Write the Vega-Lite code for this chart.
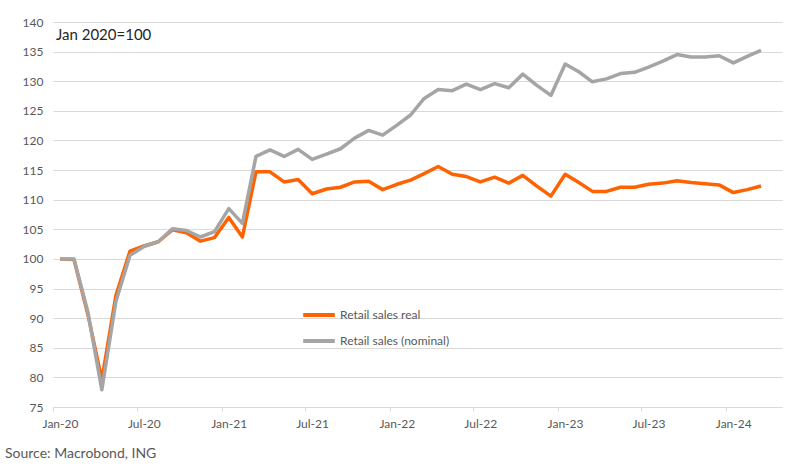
{
  "$schema": "https://vega.github.io/schema/vega-lite/v6.json",
  "width": 729,
  "height": 385,
  "autosize": {"type": "none"},
  "padding": {"left": 53, "top": 22, "right": 5, "bottom": 68},
  "background": "white",
  "config": {"view": {"stroke": null}, "font": "Lato"},
  "title": {"text": "Source: Macrobond, ING", "orient": "bottom", "anchor": "start", "frame": "group", "dx": -48, "offset": 18, "fontSize": 14, "fontWeight": "normal", "color": "#595959", "font": "Lato"},
  "layer": [
    {
      "data": {"values": [
        {"month": "2020-01-01", "series": "Retail sales real", "index": 100.0},
        {"month": "2020-02-01", "series": "Retail sales real", "index": 99.9},
        {"month": "2020-03-01", "series": "Retail sales real", "index": 90.7},
        {"month": "2020-04-01", "series": "Retail sales real", "index": 79.6},
        {"month": "2020-05-01", "series": "Retail sales real", "index": 93.8},
        {"month": "2020-06-01", "series": "Retail sales real", "index": 101.3},
        {"month": "2020-07-01", "series": "Retail sales real", "index": 102.2},
        {"month": "2020-08-01", "series": "Retail sales real", "index": 102.9},
        {"month": "2020-09-01", "series": "Retail sales real", "index": 104.9},
        {"month": "2020-10-01", "series": "Retail sales real", "index": 104.4},
        {"month": "2020-11-01", "series": "Retail sales real", "index": 103.0},
        {"month": "2020-12-01", "series": "Retail sales real", "index": 103.6},
        {"month": "2021-01-01", "series": "Retail sales real", "index": 107.0},
        {"month": "2021-02-01", "series": "Retail sales real", "index": 103.7},
        {"month": "2021-03-01", "series": "Retail sales real", "index": 114.7},
        {"month": "2021-04-01", "series": "Retail sales real", "index": 114.7},
        {"month": "2021-05-01", "series": "Retail sales real", "index": 113.0},
        {"month": "2021-06-01", "series": "Retail sales real", "index": 113.4},
        {"month": "2021-07-01", "series": "Retail sales real", "index": 111.0},
        {"month": "2021-08-01", "series": "Retail sales real", "index": 111.8},
        {"month": "2021-09-01", "series": "Retail sales real", "index": 112.1},
        {"month": "2021-10-01", "series": "Retail sales real", "index": 113.0},
        {"month": "2021-11-01", "series": "Retail sales real", "index": 113.1},
        {"month": "2021-12-01", "series": "Retail sales real", "index": 111.7},
        {"month": "2022-01-01", "series": "Retail sales real", "index": 112.6},
        {"month": "2022-02-01", "series": "Retail sales real", "index": 113.3},
        {"month": "2022-03-01", "series": "Retail sales real", "index": 114.4},
        {"month": "2022-04-01", "series": "Retail sales real", "index": 115.6},
        {"month": "2022-05-01", "series": "Retail sales real", "index": 114.3},
        {"month": "2022-06-01", "series": "Retail sales real", "index": 113.9},
        {"month": "2022-07-01", "series": "Retail sales real", "index": 113.0},
        {"month": "2022-08-01", "series": "Retail sales real", "index": 113.8},
        {"month": "2022-09-01", "series": "Retail sales real", "index": 112.8},
        {"month": "2022-10-01", "series": "Retail sales real", "index": 114.1},
        {"month": "2022-11-01", "series": "Retail sales real", "index": 112.3},
        {"month": "2022-12-01", "series": "Retail sales real", "index": 110.6},
        {"month": "2023-01-01", "series": "Retail sales real", "index": 114.3},
        {"month": "2023-02-01", "series": "Retail sales real", "index": 112.9},
        {"month": "2023-03-01", "series": "Retail sales real", "index": 111.4},
        {"month": "2023-04-01", "series": "Retail sales real", "index": 111.4},
        {"month": "2023-05-01", "series": "Retail sales real", "index": 112.1},
        {"month": "2023-06-01", "series": "Retail sales real", "index": 112.1},
        {"month": "2023-07-01", "series": "Retail sales real", "index": 112.6},
        {"month": "2023-08-01", "series": "Retail sales real", "index": 112.8},
        {"month": "2023-09-01", "series": "Retail sales real", "index": 113.2},
        {"month": "2023-10-01", "series": "Retail sales real", "index": 112.9},
        {"month": "2023-11-01", "series": "Retail sales real", "index": 112.7},
        {"month": "2023-12-01", "series": "Retail sales real", "index": 112.5},
        {"month": "2024-01-01", "series": "Retail sales real", "index": 111.2},
        {"month": "2024-02-01", "series": "Retail sales real", "index": 111.7},
        {"month": "2024-03-01", "series": "Retail sales real", "index": 112.3},
        {"month": "2020-01-01", "series": "Retail sales (nominal)", "index": 100.0},
        {"month": "2020-02-01", "series": "Retail sales (nominal)", "index": 100.0},
        {"month": "2020-03-01", "series": "Retail sales (nominal)", "index": 91.1},
        {"month": "2020-04-01", "series": "Retail sales (nominal)", "index": 77.9},
        {"month": "2020-05-01", "series": "Retail sales (nominal)", "index": 92.8},
        {"month": "2020-06-01", "series": "Retail sales (nominal)", "index": 100.6},
        {"month": "2020-07-01", "series": "Retail sales (nominal)", "index": 102.1},
        {"month": "2020-08-01", "series": "Retail sales (nominal)", "index": 102.9},
        {"month": "2020-09-01", "series": "Retail sales (nominal)", "index": 105.1},
        {"month": "2020-10-01", "series": "Retail sales (nominal)", "index": 104.8},
        {"month": "2020-11-01", "series": "Retail sales (nominal)", "index": 103.7},
        {"month": "2020-12-01", "series": "Retail sales (nominal)", "index": 104.6},
        {"month": "2021-01-01", "series": "Retail sales (nominal)", "index": 108.5},
        {"month": "2021-02-01", "series": "Retail sales (nominal)", "index": 106.0},
        {"month": "2021-03-01", "series": "Retail sales (nominal)", "index": 117.3},
        {"month": "2021-04-01", "series": "Retail sales (nominal)", "index": 118.4},
        {"month": "2021-05-01", "series": "Retail sales (nominal)", "index": 117.3},
        {"month": "2021-06-01", "series": "Retail sales (nominal)", "index": 118.5},
        {"month": "2021-07-01", "series": "Retail sales (nominal)", "index": 116.8},
        {"month": "2021-08-01", "series": "Retail sales (nominal)", "index": 117.7},
        {"month": "2021-09-01", "series": "Retail sales (nominal)", "index": 118.6},
        {"month": "2021-10-01", "series": "Retail sales (nominal)", "index": 120.4},
        {"month": "2021-11-01", "series": "Retail sales (nominal)", "index": 121.7},
        {"month": "2021-12-01", "series": "Retail sales (nominal)", "index": 120.9},
        {"month": "2022-01-01", "series": "Retail sales (nominal)", "index": 122.6},
        {"month": "2022-02-01", "series": "Retail sales (nominal)", "index": 124.3},
        {"month": "2022-03-01", "series": "Retail sales (nominal)", "index": 127.1},
        {"month": "2022-04-01", "series": "Retail sales (nominal)", "index": 128.6},
        {"month": "2022-05-01", "series": "Retail sales (nominal)", "index": 128.4},
        {"month": "2022-06-01", "series": "Retail sales (nominal)", "index": 129.5},
        {"month": "2022-07-01", "series": "Retail sales (nominal)", "index": 128.6},
        {"month": "2022-08-01", "series": "Retail sales (nominal)", "index": 129.6},
        {"month": "2022-09-01", "series": "Retail sales (nominal)", "index": 128.9},
        {"month": "2022-10-01", "series": "Retail sales (nominal)", "index": 131.2},
        {"month": "2022-11-01", "series": "Retail sales (nominal)", "index": 129.3},
        {"month": "2022-12-01", "series": "Retail sales (nominal)", "index": 127.6},
        {"month": "2023-01-01", "series": "Retail sales (nominal)", "index": 132.9},
        {"month": "2023-02-01", "series": "Retail sales (nominal)", "index": 131.6},
        {"month": "2023-03-01", "series": "Retail sales (nominal)", "index": 129.9},
        {"month": "2023-04-01", "series": "Retail sales (nominal)", "index": 130.4},
        {"month": "2023-05-01", "series": "Retail sales (nominal)", "index": 131.3},
        {"month": "2023-06-01", "series": "Retail sales (nominal)", "index": 131.5},
        {"month": "2023-07-01", "series": "Retail sales (nominal)", "index": 132.4},
        {"month": "2023-08-01", "series": "Retail sales (nominal)", "index": 133.4},
        {"month": "2023-09-01", "series": "Retail sales (nominal)", "index": 134.5},
        {"month": "2023-10-01", "series": "Retail sales (nominal)", "index": 134.1},
        {"month": "2023-11-01", "series": "Retail sales (nominal)", "index": 134.1},
        {"month": "2023-12-01", "series": "Retail sales (nominal)", "index": 134.3},
        {"month": "2024-01-01", "series": "Retail sales (nominal)", "index": 133.1},
        {"month": "2024-02-01", "series": "Retail sales (nominal)", "index": 134.2},
        {"month": "2024-03-01", "series": "Retail sales (nominal)", "index": 135.2}
      ]},
      "mark": {"type": "line", "strokeWidth": 3.5, "strokeJoin": "round"},
      "encoding": {
        "x": {
          "field": "month", "timeUnit": "utcyearmonth", "type": "temporal", "bandPosition": 0.5,
          "scale": {"type": "utc", "domain": [{"year": 2020, "month": 1, "date": 1, "utc": true}, {"year": 2024, "month": 5, "date": 1, "utc": true}]},
          "axis": {
            "title": null, "format": "%b-%y", "grid": false, "tickCount": 20,
            "values": [
              {"year": 2020, "month": 1, "date": 1, "utc": true},
              {"year": 2020, "month": 7, "date": 1, "utc": true},
              {"year": 2021, "month": 1, "date": 1, "utc": true},
              {"year": 2021, "month": 7, "date": 1, "utc": true},
              {"year": 2022, "month": 1, "date": 1, "utc": true},
              {"year": 2022, "month": 7, "date": 1, "utc": true},
              {"year": 2023, "month": 1, "date": 1, "utc": true},
              {"year": 2023, "month": 7, "date": 1, "utc": true},
              {"year": 2024, "month": 1, "date": 1, "utc": true}
            ],
            "labelOffset": 7, "labelPadding": 7, "labelFlush": false, "labelOverlap": false, "labelFontSize": 12, "labelColor": "#595959",
            "tickSize": 4, "tickColor": "#d9d9d9", "domainColor": "#d9d9d9", "labelFont": "Lato"
          }
        },
        "y": {
          "field": "index", "type": "quantitative",
          "scale": {"domain": [75, 140], "nice": false, "zero": false},
          "axis": {
            "title": null, "values": [75,80,85,90,95,100,105,110,115,120,125,130,135,140], "tickCount": 20,
            "ticks": false, "domain": false, "labelPadding": 10, "labelFontSize": 12, "labelColor": "#595959",
            "labelOverlap": false, "labelFlush": false,
            "gridColor": "#d9d9d9", "gridWidth": 1, "labelFont": "Lato"
          }
        },
        "color": {
          "field": "series", "type": "nominal",
          "scale": {"domain": ["Retail sales real", "Retail sales (nominal)"], "range": ["#FF6200", "#A5A5A5"]},
          "legend": {
            "title": null, "orient": "none", "legendX": 248, "legendY": 275,
            "symbolType": "stroke", "symbolStrokeWidth": 4, "symbolSize": 1000,
            "labelFontSize": 12, "labelColor": "#595959", "labelFont": "Lato", "rowPadding": -4, "labelOffset": 3
          }
        }
      }
    },
    {
      "data": {"values": [{"label": "Jan 2020=100", "month": "2020-01-01", "level": 137.8}]},
      "mark": {"type": "text", "align": "left", "baseline": "middle", "dx": 3, "fontSize": 15, "color": "#262626", "font": "Lato"},
      "encoding": {
        "text": {"field": "label", "type": "nominal"},
        "x": {"field": "month", "type": "temporal"},
        "y": {"field": "level", "type": "quantitative"}
      }
    }
  ]
}
